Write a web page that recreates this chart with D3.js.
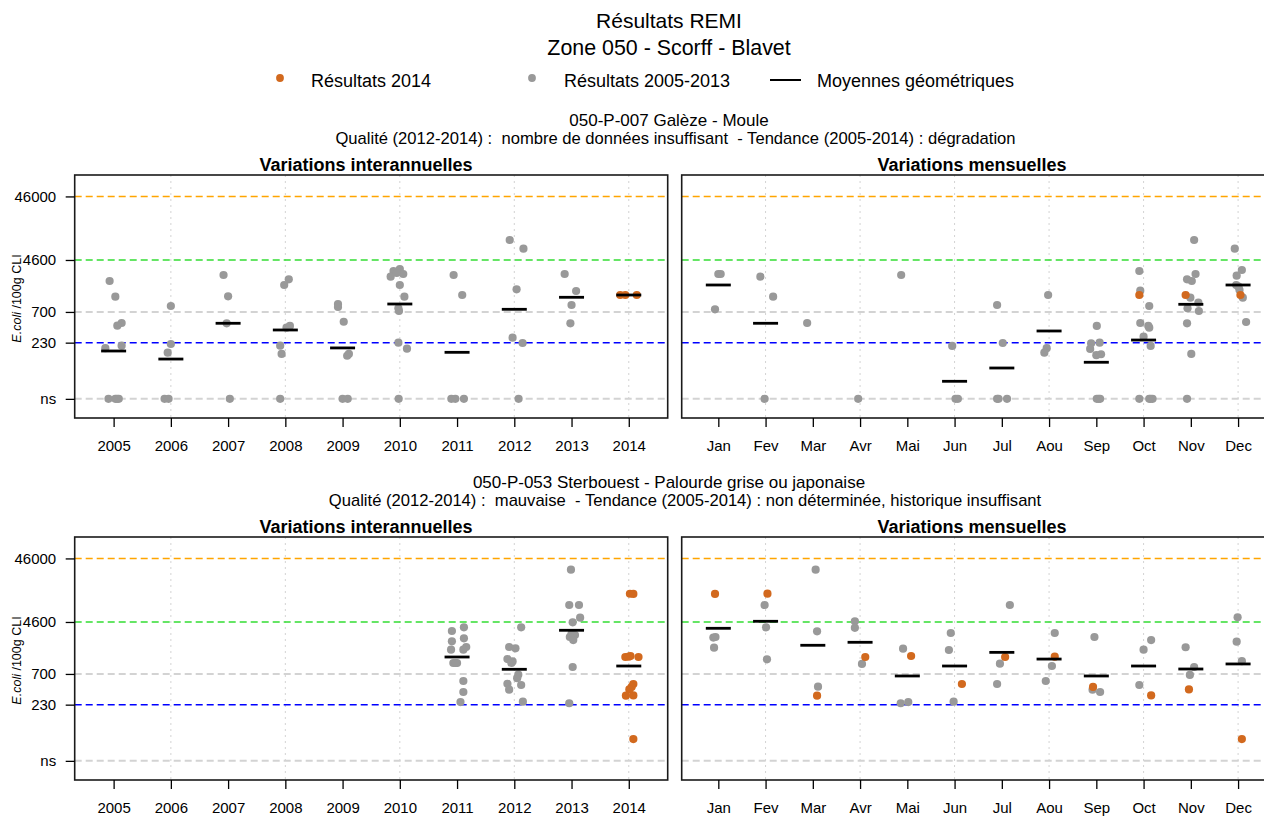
<!DOCTYPE html>
<html>
<head>
<meta charset="utf-8">
<script src="https://cdn.jsdelivr.net/npm/d3@7"></script>
<style>
html, body { margin: 0; padding: 0; background: #fff; }
svg { display: block; font-family: "Liberation Sans", Arial, Helvetica, sans-serif; }
</style>
</head>
<body>
<svg id="chart" width="1264" height="818"></svg>
<script>
// ---------------- DATA ----------------
const years = ["2005","2006","2007","2008","2009","2010","2011","2012","2013","2014"];
const months = ["Jan","Fev","Mar","Avr","Mai","Jun","Jul","Aou","Sep","Oct","Nov","Dec"];
const currentYear = "2014";
const yTickValues = [46000, 4600, 700, 230, "ns"];
const yTickLabels = ["46000", "4600", "700", "230", "ns"];
const nsLevel = 30;                       // value at which "ns" results are plotted
const refValues = [46000, 4600, 700, 230, "ns"];
const refColors = ["#FFA500", "#33DD33", "#D3D3D3", "#0000FF", "#D3D3D3"];

// Station 1 : 050-P-007 Galèze - Moule
const galezeYearValues = [
  [2148, 1216, 469, 425, 206, 188, "ns", "ns", "ns", "ns"],
  [868, 219, 160, "ns", "ns"],
  [2670, 1234, 464, "ns"],
  [2285, 1858, 421, 396, 206, 153, "ns"],
  [933, 837, 491, 153, 143, "ns", "ns"],
  [3085, 3320, 2770, 2510, 2870, 1858, 1216, 799, 724, 230, 185, "ns"],
  [2670, 1293, "ns", "ns", "ns"],
  [9490, 6920, 1590, 275, 227, "ns"],
  [2770, 1495, 900, 464],
  [1293, 1293, 1293]
];
const galezeYearJitter = [
  [-0.07, 0.03, 0.14, 0.065, 0.14, -0.145, -0.09, 0.03, 0.09, 0.06],
  [0, 0, -0.055, -0.11, -0.04],
  [-0.08, 0, -0.025, 0.03],
  [0.06, -0.02, 0.08, 0.02, -0.09, -0.065, -0.09],
  [-0.08, -0.08, 0.02, 0.11, 0.08, 0, 0.09],
  [-0.11, 0, 0.06, -0.16, -0.055, 0, 0.08, -0.025, -0.015, -0.025, 0.125, -0.02],
  [-0.06, 0.09, -0.1, -0.03, 0.12],
  [-0.08, 0.16, 0.04, -0.03, 0.145, 0.075],
  [-0.12, 0.08, 0, -0.02],
  [-0.15, -0.06, 0.14]
];
const galezeYearMeans = [170, 127, 464, 364, 190, 933, 162, 770, 1190, 1293];

const galezeMonthValues = [
  [2770, 2770, 770],
  [2510, 1216, "ns"],
  [469],
  ["ns"],
  [2670],
  [204, "ns", "ns"],
  [900, 227, "ns", "ns", "ns"],
  [1293, 188, 160],
  [421, 225, 230, 183, 146, 151, "ns", "ns", "ns"],
  [3085, 1511, 868, 469, 421, 396, 286, 204, "ns", "ns", "ns", "ns"],
  [9490, 2770, 2285, 2148, 1173, 979, 799, 724, 464, 153, "ns"],
  [6920, 3200, 2603, 1858, 1747, 1550, 1173, 486]
];
const galezeMonthJitter = [
  [0, 0.05, -0.07],
  [-0.11, 0.16, -0.02],
  [-0.12],
  [-0.04],
  [-0.13],
  [-0.05, 0.02, 0.07],
  [-0.1, 0.02, -0.1, 0.11, -0.07],
  [-0.02, -0.05, -0.1],
  [0.01, -0.11, 0.07, -0.13, 0, 0.1, 0.05, 0.01, 0.08],
  [-0.09, -0.07, 0.12, -0.07, 0.1, 0.12, 0, 0.15, -0.09, 0.15, 0.19, 0.12],
  [0.07, 0.1, -0.08, 0.02, -0.01, 0.16, -0.07, 0.17, -0.08, 0.01, -0.08],
  [-0.07, 0.08, -0.03, -0.04, 0.01, 0.03, 0.1, 0.17]
];
const galezeMonthValues2014 = [[], [], [], [], [], [], [], [], [], [1293], [1293], [1293]];
const galezeMonthJitter2014 = [[], [], [], [], [], [], [], [], [], [-0.09], [-0.11], [0.05]];
const galezeMonthMeans = [1858, 464, null, null, null, 56.7, 91.8, 351, 113, 253, 923, 1858];

// Station 2 : 050-P-053 Sterbouest - Palourde grise ou japonaise
const sterYearValues = [
  [], [], [], [], [], [],
  [3320, 3795, 2285, 2540, 1685, 1858, 1685, 1041, 1041, 1041, 542, 364, 253],
  [3795, 1858, 1770, 1200, 1100, 1041, 681, 600, 491, 469, 396, 256],
  [30580, 8510, 8510, 5375, 4546, 3000, 2870, 2670, 2390, 900, 242],
  [12800, 12700, 1293, 1310, 1340, 1293, 486, 437, 400, 318, 321, 66]
];
const sterYearJitter = [
  [], [], [], [], [], [],
  [-0.09, 0.12, -0.09, 0.12, -0.105, 0.16, 0.11, -0.065, 0, -0.03, 0.11, 0.11, 0.06],
  [0.12, -0.09, 0.02, -0.12, -0.03, -0.05, 0.07, 0.05, -0.12, 0.12, -0.09, 0.15],
  [-0.01, -0.04, 0.13, 0.15, 0.02, 0, 0.06, -0.03, 0.03, 0.02, -0.04],
  [0.02, 0.08, -0.06, 0, 0.03, 0.17, 0.08, 0.05, 0.01, -0.05, 0.08, 0.08]
];
const sterYearMeans = [null, null, null, null, null, null, 1293, 828, 3404, 933];

const sterMonthValues = [
  [2610, 2670, 1810], [8510, 3795, 1190], [30580, 3280, 441], [4720, 3720, 1005],
  [1747, 242, 253], [3085, 1665, 256], [8510, 1015, 486], [3085, 933, 542],
  [2670, 396, 364], [2390, 1685, 469], [1840, 900, 675], [5440, 2250, 1110]
];
const sterMonthJitter = [
  [-0.105, -0.06, -0.09], [-0.02, 0.01, 0.03], [0.06, 0.09, 0.11], [-0.11, -0.11, 0.04],
  [-0.09, -0.14, 0.02], [-0.08, -0.12, -0.02], [0.17, -0.04, -0.1], [0.12, 0.06, -0.07],
  [-0.04, -0.08, 0.08], [0.16, 0, -0.09], [-0.11, 0.07, -0.02], [-0.01, -0.03, 0.08]
];
const sterMonthValues2014 = [[12700], [12820], [318], [1293], [1340], [486], [1293], [1310], [437], [321], [400], [66]];
const sterMonthJitter2014 = [[-0.07], [0.04], [0.09], [0.11], [0.08], [0.155], [0.07], [0.12], [-0.07], [0.16], [-0.04], [0.08]];
const sterMonthMeans = [3658, 4716, 1977, 2203, 650, 933, 1530, 1200, 650, 933, 837, 1005];

// ---------------- LAYOUT / STYLE ----------------
const W = 1264, H = 818;
const COL_OLD = "#999999";
const COL_NEW = "#D2691E";
const yearPanelX = [74.7, 667.7];
const monthPanelX = [681.7, 1274.7];
const PT_R = 4.1;

const svg = d3.select("#chart");
svg.append("rect").attr("width", W).attr("height", H).attr("fill", "#ffffff");

const num = v => (v === "ns" ? nsLevel : v);

function addText(x, y, str, size, opts = {}) {
  return svg.append("text")
    .attr("x", x).attr("y", y)
    .attr("text-anchor", opts.anchor || "middle")
    .attr("font-size", size)
    .attr("font-weight", opts.bold ? "bold" : "normal")
    .attr("fill", "#000")
    .style("white-space", "pre")
    .text(str);
}

// Main titles
addText(669, 28, "Résultats REMI", 21);
addText(669, 55, "Zone 050 - Scorff - Blavet", 21.4);

// Legend
const leg = svg.append("g");
leg.append("circle").attr("cx", 280).attr("cy", 78).attr("r", 3.9).attr("fill", COL_NEW);
addText(311, 87, "Résultats 2014", 18, { anchor: "start" });
leg.append("circle").attr("cx", 532).attr("cy", 78).attr("r", 3.9).attr("fill", COL_OLD);
addText(564, 87, "Résultats 2005-2013", 18, { anchor: "start" });
leg.append("line").attr("x1", 770).attr("x2", 801).attr("y1", 80).attr("y2", 80)
  .attr("stroke", "#000").attr("stroke-width", 2);
addText(817, 87, "Moyennes géométriques", 18, { anchor: "start" });

function drawPanel(cfg) {
  const { xr, top, bottom, cats, padding, vals, jit, vals2014, jit2014, means, yAxis, catColorByName } = cfg;
  const g = svg.append("g");
  const x = d3.scalePoint().domain(cats).range(xr).padding(padding);
  const step = x.step();
  const y = d3.scaleLog().domain([15, 100000]).range([bottom, top]);

  // vertical dotted grid at every second category
  g.selectAll("line.grid").data(cats.filter((c, i) => i % 2 === 1)).enter()
    .append("line")
    .attr("x1", d => x(d)).attr("x2", d => x(d))
    .attr("y1", top).attr("y2", bottom)
    .attr("stroke", "#D3D3D3").attr("stroke-width", 1)
    .attr("stroke-dasharray", "2,4");

  // reference dashed lines
  g.selectAll("line.ref").data(refValues).enter()
    .append("line")
    .attr("x1", xr[0]).attr("x2", xr[1])
    .attr("y1", d => y(num(d))).attr("y2", d => y(num(d)))
    .attr("stroke", (d, i) => refColors[i])
    .attr("stroke-width", (d, i) => refColors[i] === "#D3D3D3" ? 2 : 1.5)
    .attr("stroke-dasharray", "7,4");

  // points
  const pts = [];
  cats.forEach((c, i) => {
    vals[i].forEach((v, k) => pts.push({ c, v, j: jit[i][k], col: (catColorByName && c === currentYear) ? COL_NEW : COL_OLD }));
  });
  if (vals2014) {
    cats.forEach((c, i) => {
      vals2014[i].forEach((v, k) => pts.push({ c, v, j: jit2014[i][k], col: COL_NEW }));
    });
  }
  g.selectAll("circle.pt").data(pts).enter()
    .append("circle")
    .attr("cx", d => x(d.c) + d.j * step)
    .attr("cy", d => y(num(d.v)))
    .attr("r", PT_R)
    .attr("fill", d => d.col);

  // geometric means
  const mdata = cats.map((c, i) => ({ c, m: means[i] })).filter(d => d.m != null);
  g.selectAll("line.mean").data(mdata).enter()
    .append("line")
    .attr("x1", d => x(d.c) - 12.5).attr("x2", d => x(d.c) + 12.5)
    .attr("y1", d => y(d.m)).attr("y2", d => y(d.m))
    .attr("stroke", "#000").attr("stroke-width", 2.8);

  // box
  g.append("rect")
    .attr("x", xr[0]).attr("y", top)
    .attr("width", xr[1] - xr[0]).attr("height", bottom - top)
    .attr("fill", "none").attr("stroke", "#1a1a1a").attr("stroke-width", 1.6);

  // x axis
  const xa = g.append("g").attr("transform", `translate(0,${bottom})`)
    .call(d3.axisBottom(x).tickSize(9).tickSizeOuter(0).tickPadding(13));
  xa.select(".domain").remove();
  xa.selectAll(".tick line").attr("stroke", "#000").attr("stroke-width", 1.3);
  xa.selectAll(".tick text").attr("font-size", 15).attr("fill", "#000")
    .attr("font-family", '"Liberation Sans", Arial, sans-serif');

  // y axis
  if (yAxis) {
    const ya = g.append("g").attr("transform", `translate(${xr[0]},0)`)
      .call(d3.axisLeft(y).tickValues(yTickValues.map(num))
        .tickFormat((d, i) => yTickLabels[i]).tickSize(9).tickPadding(9.5));
    ya.select(".domain").remove();
    ya.selectAll(".tick line").attr("stroke", "#000").attr("stroke-width", 1.3);
    ya.selectAll(".tick text").attr("font-size", 15).attr("fill", "#000")
      .attr("font-family", '"Liberation Sans", Arial, sans-serif');

    const t = svg.append("text")
      .attr("transform", `translate(21,${(top + bottom) / 2 + 2}) rotate(-90)`)
      .attr("text-anchor", "middle").attr("font-size", 12.5).attr("fill", "#000")
      .style("white-space", "pre");
    t.append("tspan").attr("font-style", "italic").text("E.coli");
    t.append("tspan").text(" /100g CLI");
  }
}

const stations = [
  {
    title: "050-P-007 Galèze - Moule",
    quality: "Qualité (2012-2014) :  nombre de données insuffisant  - Tendance (2005-2014) : dégradation",
    qx: 675.5, top: 175, bottom: 418,
    yv: galezeYearValues, yj: galezeYearJitter, ym: galezeYearMeans,
    mv: galezeMonthValues, mj: galezeMonthJitter, mv14: galezeMonthValues2014, mj14: galezeMonthJitter2014, mm: galezeMonthMeans
  },
  {
    title: "050-P-053 Sterbouest - Palourde grise ou japonaise",
    quality: "Qualité (2012-2014) :  mauvaise  - Tendance (2005-2014) : non déterminée, historique insuffisant",
    qx: 685, top: 537, bottom: 780,
    yv: sterYearValues, yj: sterYearJitter, ym: sterYearMeans,
    mv: sterMonthValues, mj: sterMonthJitter, mv14: sterMonthValues2014, mj14: sterMonthJitter2014, mm: sterMonthMeans
  }
];

stations.forEach(s => {
  addText(669, s.top - 49, s.title, 17);
  addText(s.qx, s.top - 31, s.quality, 16.6);
  addText(366, s.top - 4.5, "Variations interannuelles", 18, { bold: true });
  addText(972, s.top - 4.5, "Variations mensuelles", 18, { bold: true });

  drawPanel({
    xr: yearPanelX, top: s.top, bottom: s.bottom, cats: years, padding: 0.68,
    vals: s.yv, jit: s.yj, means: s.ym, yAxis: true, catColorByName: true
  });
  drawPanel({
    xr: monthPanelX, top: s.top, bottom: s.bottom, cats: months, padding: 0.775,
    vals: s.mv, jit: s.mj, vals2014: s.mv14, jit2014: s.mj14, means: s.mm, yAxis: false
  });
});
</script>
</body>
</html>
